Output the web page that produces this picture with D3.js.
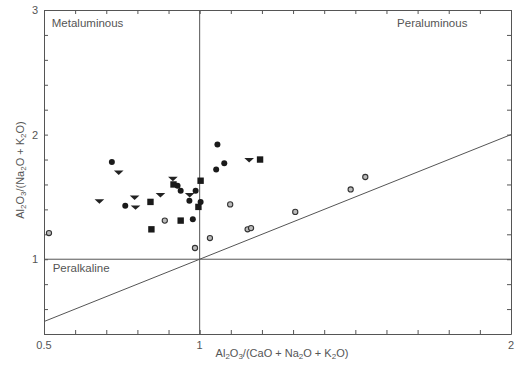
<!DOCTYPE html>
<html>
<head>
<meta charset="utf-8">
<script src="https://cdn.jsdelivr.net/npm/d3@7"></script>
<style>
  body { margin: 0; background: #fff; }
  svg text { font-family: "Liberation Sans", Arial, sans-serif; fill: #555; }
</style>
</head>
<body>
<div id="chart"></div>
<script>
// A/CNK (x) vs A/NK (y)
const filledCircles = [
  [0.718, 1.78], [0.761, 1.43], [0.929, 1.59], [0.939, 1.55], [0.987, 1.55],
  [0.967, 1.47], [1.003, 1.46], [0.978, 1.32], [1.057, 1.92], [1.079, 1.77],
  [1.053, 1.72]
];
const squares = [
  [0.916, 1.60], [1.003, 1.63], [0.842, 1.46], [0.996, 1.42], [0.939, 1.31],
  [0.845, 1.24], [1.194, 1.80]
];
const triangles = [
  [0.740, 1.70], [0.914, 1.65], [0.968, 1.52], [0.874, 1.52], [0.678, 1.47],
  [0.791, 1.50], [0.794, 1.42], [1.159, 1.80]
];
const openCircles = [
  [0.516, 1.21], [0.888, 1.31], [0.985, 1.09], [1.033, 1.17], [1.098, 1.44],
  [1.154, 1.24], [1.165, 1.25], [1.307, 1.38], [1.485, 1.56], [1.532, 1.66]
];
const xTickLabels = [0.5, 1, 2];
const yTickLabels = [1, 2, 3];
const fields = [
  { name: "Metaluminous", x: 0.525, y: 2.86, anchor: "start" },
  { name: "Peraluminous", x: 1.86, y: 2.86, anchor: "end" },
  { name: "Peralkaline", x: 0.528, y: 0.90, anchor: "start" }
];

const width = 519, height = 365;
const margin = { top: 10, right: 8, bottom: 31, left: 44 };

const svg = d3.select("#chart").append("svg")
  .attr("width", width)
  .attr("height", height);

const x = d3.scaleLinear().domain([0.5, 2]).range([margin.left, width - margin.right]);
const y = d3.scaleLinear().domain([0.4, 3]).range([height - margin.bottom, margin.top]);

const frameColor = "#555";

// inward ticks on all four sides
const xMinor = d3.range(0.5, 2.0001, 0.1);
const yMinor = d3.range(0.4, 3.0001, 0.2);
svg.append("g")
  .attr("transform", `translate(0,${y(0.4)})`)
  .call(d3.axisBottom(x).tickValues(xMinor).tickSizeInner(-4).tickSizeOuter(0).tickFormat(""));
svg.append("g")
  .attr("transform", `translate(0,${y(3)})`)
  .call(d3.axisTop(x).tickValues(xMinor).tickSizeInner(-4).tickSizeOuter(0).tickFormat(""));
svg.append("g")
  .attr("transform", `translate(${x(0.5)},0)`)
  .call(d3.axisLeft(y).tickValues(yMinor).tickSizeInner(-4).tickSizeOuter(0).tickFormat(""));
svg.append("g")
  .attr("transform", `translate(${x(2)},0)`)
  .call(d3.axisRight(y).tickValues(yMinor).tickSizeInner(-4).tickSizeOuter(0).tickFormat(""));
svg.selectAll(".domain, .tick line").attr("stroke", frameColor).attr("stroke-width", 1);

// tick labels
svg.append("g").selectAll("text")
  .data(xTickLabels)
  .join("text")
  .attr("x", d => x(d))
  .attr("y", y(0.4) + 15)
  .attr("text-anchor", "middle")
  .style("font-size", "11px")
  .text(d => d);
svg.append("g").selectAll("text")
  .data(yTickLabels)
  .join("text")
  .attr("x", x(0.5) - 6)
  .attr("y", d => y(d) + 4)
  .attr("text-anchor", "end")
  .style("font-size", "11px")
  .text(d => d);

// dividing lines
svg.append("line")
  .attr("x1", x(1)).attr("x2", x(1))
  .attr("y1", y(0.4)).attr("y2", y(3))
  .attr("stroke", frameColor);
svg.append("line")
  .attr("x1", x(0.5)).attr("x2", x(2))
  .attr("y1", y(1)).attr("y2", y(1))
  .attr("stroke", frameColor);
svg.append("line")
  .attr("x1", x(0.5)).attr("x2", x(2))
  .attr("y1", y(0.5)).attr("y2", y(2))
  .attr("stroke", frameColor);

// field names
svg.append("g").selectAll("text")
  .data(fields)
  .join("text")
  .attr("x", d => x(d.x))
  .attr("y", d => y(d.y))
  .attr("text-anchor", d => d.anchor)
  .style("font-size", "11.5px")
  .text(d => d.name);

// axis titles with subscripts
function chemTitle(sel, parts) {
  parts.forEach(p => {
    const t = sel.append("tspan").text(p[0]);
    if (p[1]) t.attr("baseline-shift", "-25%").style("font-size", "8px");
  });
}
const xTitle = svg.append("text")
  .attr("x", 282)
  .attr("y", 357)
  .attr("text-anchor", "middle")
  .style("font-size", "11px");
chemTitle(xTitle, [["Al"], ["2", 1], ["O"], ["3", 1], ["/(CaO + Na"], ["2", 1], ["O + K"], ["2", 1], ["O)"]]);

const yTitle = svg.append("text")
  .attr("transform", `translate(24,170) rotate(-90)`)
  .attr("text-anchor", "middle")
  .style("font-size", "11px");
chemTitle(yTitle, [["Al"], ["2", 1], ["O"], ["3", 1], ["/(Na"], ["2", 1], ["O + K"], ["2", 1], ["O)"]]);

// samples
const pts = svg.append("g");
pts.selectAll(".fc")
  .data(filledCircles)
  .join("circle")
  .attr("cx", d => x(d[0]))
  .attr("cy", d => y(d[1]))
  .attr("r", 3)
  .attr("fill", "#1a1a1a");
pts.selectAll(".sq")
  .data(squares)
  .join("rect")
  .attr("x", d => x(d[0]) - 3.2)
  .attr("y", d => y(d[1]) - 3.2)
  .attr("width", 6.4)
  .attr("height", 6.4)
  .attr("fill", "#1a1a1a");
const tri = d3.symbol().type(d3.symbolTriangle).size(18);
pts.selectAll(".tr")
  .data(triangles)
  .join("path")
  .attr("d", tri)
  .attr("transform", d => `translate(${x(d[0])},${y(d[1])}) rotate(180) scale(1.5,0.8)`)
  .attr("fill", "#222");
pts.selectAll(".oc")
  .data(openCircles)
  .join("circle")
  .attr("cx", d => x(d[0]))
  .attr("cy", d => y(d[1]))
  .attr("r", 2.6)
  .attr("fill", "#bbb")
  .attr("stroke", "#333")
  .attr("stroke-width", 1.1);
</script>
</body>
</html>
